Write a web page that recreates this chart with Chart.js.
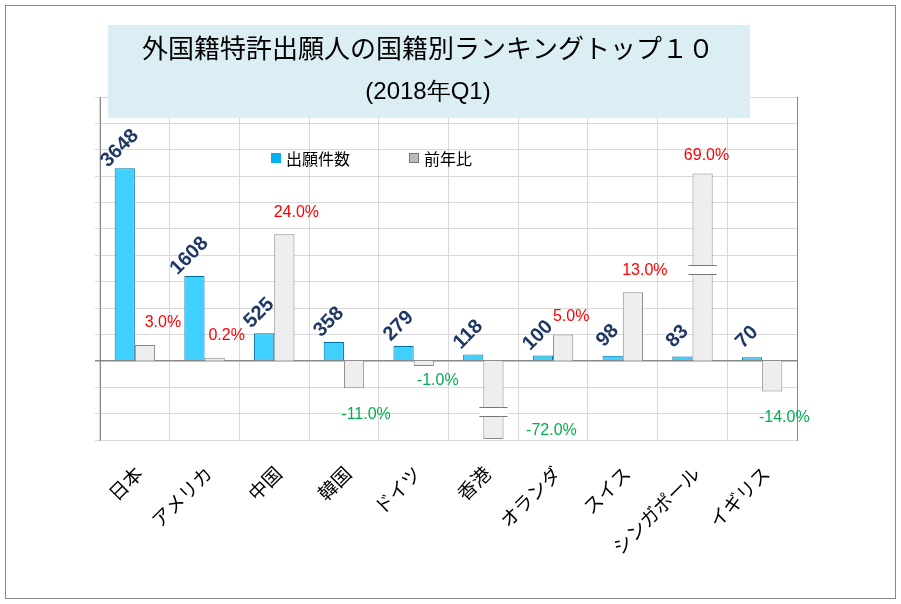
<!DOCTYPE html>
<html><head><meta charset="utf-8">
<script src="https://cdn.jsdelivr.net/npm/chart.js@4/dist/chart.umd.min.js"></script>
<style>html,body{margin:0;padding:0;background:#fff}#w{width:901px;height:604px}</style>
</head><body><div id="w"><canvas id="c" width="901" height="604"></canvas></div>
<script>
const categories = ["日本","アメリカ","中国","韓国","ドイツ","香港","オランダ","スイス","シンガポール","イギリス"];
const counts = [3648,1608,525,358,279,118,100,98,83,70];
const yoy = [3.0,0.2,24.0,-11.0,-1.0,-72.0,5.0,13.0,69.0,-14.0];
// bar lengths as drawn in the reference (broken / compressed axis)
const drawnYoy = [3.0,0.6,24.0,-5.2,-1.0,-14.8,5.0,13.0,35.5,-5.8];
const y1Min = -15, y1Max = 50;
const F = '"Noto Sans CJK JP","Noto Sans",sans-serif';

function grad(ctx, c1, c2) {
  const a = ctx.chart.chartArea; if (!a) return c1;
  const el = ctx.element; if (!el || el.width === undefined) return c1;
  const x0 = el.x - el.width/2, x1 = el.x + el.width/2;
  const g = ctx.chart.ctx.createLinearGradient(x0,0,x1,0);
  g.addColorStop(0,c2); g.addColorStop(0.45,c1); g.addColorStop(1,c2);
  return g;
}

const deco = {
  id:'deco',
  beforeDraw(chart){
    const c = chart.ctx;
    c.save();
    c.fillStyle='#fff'; c.fillRect(0,0,901,604);
    c.strokeStyle='#888'; c.lineWidth=1; c.strokeRect(5.5,5.5,890,593);
    c.restore();
  },
  afterDatasetsDraw(chart){
    const c = chart.ctx;
    const m0 = chart.getDatasetMeta(0), m1 = chart.getDatasetMeta(1);
    c.save();
    [5,8].forEach(i=>{
      const b = m1.data[i];
      const yb = i===8 ? 270 : 412;
      c.fillStyle='#fff';
      c.fillRect(b.x-b.width/2-4, yb-4, b.width+8, 8);
      c.strokeStyle='#777'; c.lineWidth=1;
      c.beginPath(); c.moveTo(b.x-b.width/2-4,yb-4.5); c.lineTo(b.x+b.width/2+4,yb-4.5);
      c.moveTo(b.x-b.width/2-4,yb+4.5); c.lineTo(b.x+b.width/2+4,yb+4.5); c.stroke();
    });
    c.font='bold 20px "Liberation Sans",Arial,sans-serif';
    c.fillStyle='#1F3864'; c.textAlign='center'; c.textBaseline='middle';
    m0.data.forEach((b,i)=>{
      c.save(); c.translate(b.x-5, b.y-20); c.rotate(-Math.PI/4);
      c.fillText(String(counts[i]),0,0); c.restore();
    });
    c.font='16px "Liberation Sans",Arial,sans-serif';
    m1.data.forEach((b,i)=>{
      const v = yoy[i];
      c.fillStyle = v>=0 ? '#FF0000' : '#00B050';
      let x = b.x+12, y = v>=0 ? b.y-22 : b.y+26;
      if (i===0) { x = b.x+18; y = b.y-22; }
      if (i===5) { x = b.x+58; y = b.y-8; }
      if (i===4) { x = b.x+14; y = b.y+14; }
      if (i===6) { x = b.x+8; y = b.y-18; }
      if (i===8) { x = b.x+4; y = b.y-18; }
      c.fillText(v.toFixed(1)+'%', x, y);
    });
    c.font='19px '+F; c.fillStyle='#000'; c.textAlign='right';
    const xs = chart.scales.x;
    categories.forEach((t,i)=>{
      const x = xs.getPixelForValue(i);
      c.save(); c.translate(x+4,470); c.rotate(-Math.PI/4); c.fillText(t,0,0); c.restore();
    });
    c.font='16px '+F; c.textAlign='left';
    c.fillStyle='#00B0F0'; c.fillRect(271,153,10,10);
    c.fillStyle='#000'; c.fillText('出願件数',286,159);
    c.fillStyle='#bbb'; c.fillRect(409,153,10,10);
    c.strokeStyle='#777'; c.strokeRect(409.5,153.5,9,9);
    c.fillStyle='#000'; c.fillText('前年比',424,159);
    c.fillStyle='#DAEEF3'; c.fillRect(108,25,642,93);
    c.fillStyle='#000'; c.textAlign='center';
    c.font='26px '+F; c.fillText('外国籍特許出願人の国籍別ランキングトップ１０',428,48);
    c.font='24px "Liberation Sans",Arial,sans-serif'; c.fillText('(2018年Q1)',428,92);
    c.restore();
  }
};

new Chart(document.getElementById('c'),{
  type:'bar',
  data:{labels:categories,datasets:[
    {data:counts,yAxisID:'y',backgroundColor:ctx=>grad(ctx,'#3FD0FF','#0090D0'),borderColor:'#0070A0',borderWidth:1,categoryPercentage:0.58,barPercentage:1},
    {data:drawnYoy,yAxisID:'y1',backgroundColor:ctx=>grad(ctx,'#EEEEEE','#A0A0A0'),borderColor:'#888',borderWidth:1,categoryPercentage:0.58,barPercentage:1}
  ]},
  options:{responsive:false,animation:false,devicePixelRatio:1,
    layout:{padding:{left:95,right:96,top:97,bottom:164}},
    plugins:{legend:{display:false},tooltip:{enabled:false}},
    scales:{
      x:{ticks:{display:false},grid:{color:'#D9D9D9',offset:true,drawTicks:false},border:{color:'#D9D9D9'}},
      y:{min:-1500,max:5000,ticks:{display:false,stepSize:500},grid:{drawTicks:true,tickLength:5,lineWidth:c=>c.tick.value===0?1.5:1,color:c=>c.tick.value===0?'#888':'#D9D9D9'},border:{color:'#888'}},
      y1:{position:'right',min:y1Min,max:y1Max,ticks:{display:false,stepSize:8.125},grid:{display:false},border:{color:'#888'}}
    }
  },
  plugins:[deco]
});
</script></body></html>
